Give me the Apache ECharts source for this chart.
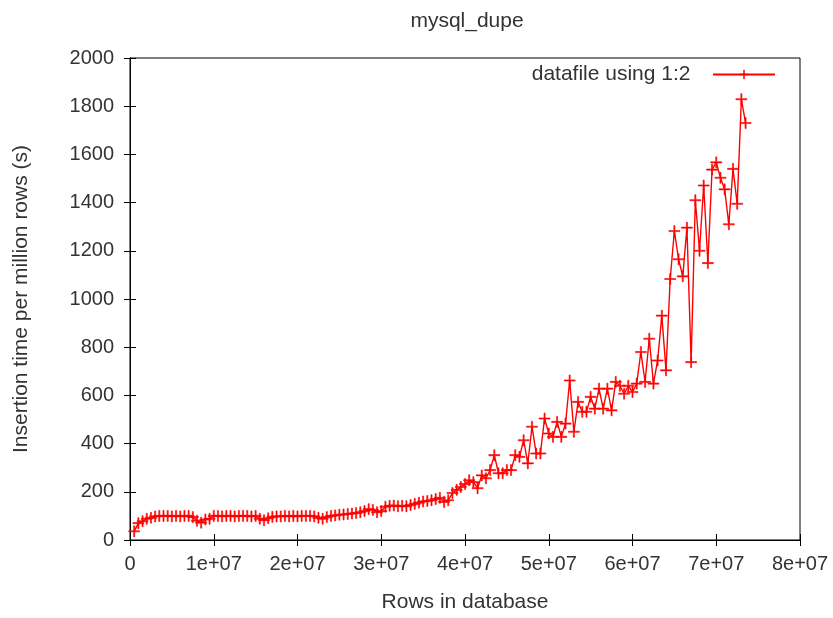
<!DOCTYPE html>
<html>
<head>
<meta charset="utf-8">
<title>mysql_dupe</title>
<script src="https://cdn.jsdelivr.net/npm/echarts@6/dist/echarts.min.js"></script>
<style>
  html, body { margin: 0; padding: 0; background: #fff; }
  #chart { width: 833px; height: 618px; }
</style>
</head>
<body>
<div id="chart"></div>
<script>
// rows in database, millions
const rowsMillions = [
  0.5, 1, 1.5, 2, 2.5, 3, 3.5, 4, 4.5, 5, 5.5, 6, 6.5, 7, 7.5, 8, 8.5, 9, 9.5, 10,
  10.5, 11, 11.5, 12, 12.5, 13, 13.5, 14, 14.5, 15, 15.5, 16, 16.5, 17, 17.5, 18, 18.5, 19, 19.5, 20,
  20.5, 21, 21.5, 22, 22.5, 23, 23.5, 24, 24.5, 25, 25.5, 26, 26.5, 27, 27.5, 28, 28.5, 29, 29.5, 30,
  30.5, 31, 31.5, 32, 32.5, 33, 33.5, 34, 34.5, 35, 35.5, 36, 36.5, 37, 37.5, 38, 38.5, 39, 39.5, 40,
  40.5, 41, 41.5, 42, 42.5, 43, 43.5, 44, 44.5, 45, 45.5, 46, 46.5, 47, 47.5, 48, 48.5, 49, 49.5, 50,
  50.5, 51, 51.5, 52, 52.5, 53, 53.5, 54, 54.5, 55, 55.5, 56, 56.5, 57, 57.5, 58, 58.5, 59, 59.5, 60,
  60.5, 61, 61.5, 62, 62.5, 63, 63.5, 64, 64.5, 65, 65.5, 66, 66.5, 67, 67.5, 68, 68.5, 69, 69.5, 70,
  70.5, 71, 71.5, 72, 72.5, 73, 73.5
];
// insertion time per million rows (s)
const insertTime = [
  36, 70, 78, 88, 92, 98, 100, 100, 100, 98, 100, 98, 100, 100, 95, 80, 72, 85, 88, 100,
  100, 98, 100, 100, 98, 100, 100, 100, 98, 100, 88, 82, 90, 96, 98, 98, 100, 98, 100, 98,
  100, 100, 100, 98, 92, 88, 95, 100, 102, 105, 106, 108, 110, 112, 115, 120, 128, 125, 115, 120,
  138, 142, 143, 140, 142, 140, 145, 150, 155, 160, 162, 165, 170, 175, 158, 165, 195, 208, 220, 232,
  248, 240, 215, 268, 256, 290, 352, 277, 277, 290, 290, 352, 345, 414, 318, 470, 359, 359, 504, 442,
  428, 490, 428, 483, 662, 449, 573, 532, 532, 594, 545, 628, 545, 628, 538, 656, 640, 607, 640, 614,
  649, 780, 656, 835, 649, 745, 931, 704, 1083, 1282, 1165, 1094, 1296, 738, 1410, 1200, 1471, 1149, 1537, 1567,
  1503, 1455, 1310, 1540, 1395, 1829, 1730
];
const xTicks = ["0", "1e+07", "2e+07", "3e+07", "4e+07", "5e+07", "6e+07", "7e+07", "8e+07"];

// gnuplot style "+" point, drawn as a thin filled cross
const plusSymbol = "path://M5.4,0h1.2v5.4h5.4v1.2h-5.4v5.4h-1.2v-5.4h-5.4v-1.2h5.4z";
const font = "Liberation Sans";
const fontSize = 20;
const nameSize = 21;
const textColor = "#333";
const red = "#ff0000";

const chart = echarts.init(document.getElementById("chart"), null, { renderer: "canvas" });

const points = rowsMillions.map((r, i) => [r * 1e6, insertTime[i]]);

const axisCommon = {
  axisLine: { show: true, lineStyle: { color: "#000", width: 1 } },
  axisTick: { show: true, inside: true, length: 6, lineStyle: { color: "#000" } },
  splitLine: { show: false },
};

chart.setOption({
  animation: false,
  backgroundColor: "#fff",
  title: {
    text: "mysql_dupe",
    left: 462,
    top: 6,
    textAlign: "center",
    textStyle: { fontFamily: font, fontSize: nameSize, fontWeight: "normal", color: textColor },
  },
  legend: {
    data: ["datafile using 1:2"],
    right: 57,
    top: 64,
    padding: 0,
    align: "right",
    itemWidth: 62,
    itemHeight: 11,
    formatter: (name) => name + "   ",
    itemStyle: { color: red, borderColor: red, borderWidth: 0.6 },
    textStyle: { fontFamily: font, fontSize: nameSize, color: textColor },
  },
  grid: {
    left: 130,
    right: 33,
    top: 58,
    bottom: 76,
    show: true,
    borderColor: "#000",
    borderWidth: 1,
  },
  xAxis: [
    Object.assign({}, axisCommon, {
      type: "value",
      min: 0,
      max: 8e7,
      interval: 1e7,
      name: "Rows in database",
      nameLocation: "middle",
      nameGap: 52,
      nameTextStyle: { fontFamily: font, fontSize: nameSize, color: textColor },
      axisLabel: {
        margin: 14,
        fontFamily: font,
        fontSize: fontSize,
        color: textColor,
        formatter: (v) => xTicks[Math.round(v / 1e7)],
      },
    }),
    Object.assign({}, axisCommon, {
      type: "value",
      position: "top",
      min: 0,
      max: 8e7,
      interval: 1e7,
      axisLabel: { show: false },
    }),
  ],
  yAxis: [
    Object.assign({}, axisCommon, {
      type: "value",
      min: 0,
      max: 2000,
      interval: 200,
      name: "Insertion time per million rows (s)",
      nameLocation: "middle",
      nameGap: 98,
      nameTextStyle: { fontFamily: font, fontSize: nameSize, color: textColor },
      axisLabel: {
        margin: 16,
        fontFamily: font,
        fontSize: fontSize,
        color: textColor,
        formatter: (v) => String(v),
      },
    }),
    Object.assign({}, axisCommon, {
      type: "value",
      position: "right",
      min: 0,
      max: 2000,
      interval: 200,
      axisLabel: { show: false },
    }),
  ],
  series: [
    {
      name: "datafile using 1:2",
      type: "line",
      xAxisIndex: 0,
      yAxisIndex: 0,
      data: points,
      symbol: plusSymbol,
      symbolSize: 11,
      showAllSymbol: true,
      itemStyle: { color: red, borderColor: red, borderWidth: 0.6, opacity: 1 },
      lineStyle: { color: red, width: 1.4 },
    },
  ],
});
</script>
</body>
</html>
